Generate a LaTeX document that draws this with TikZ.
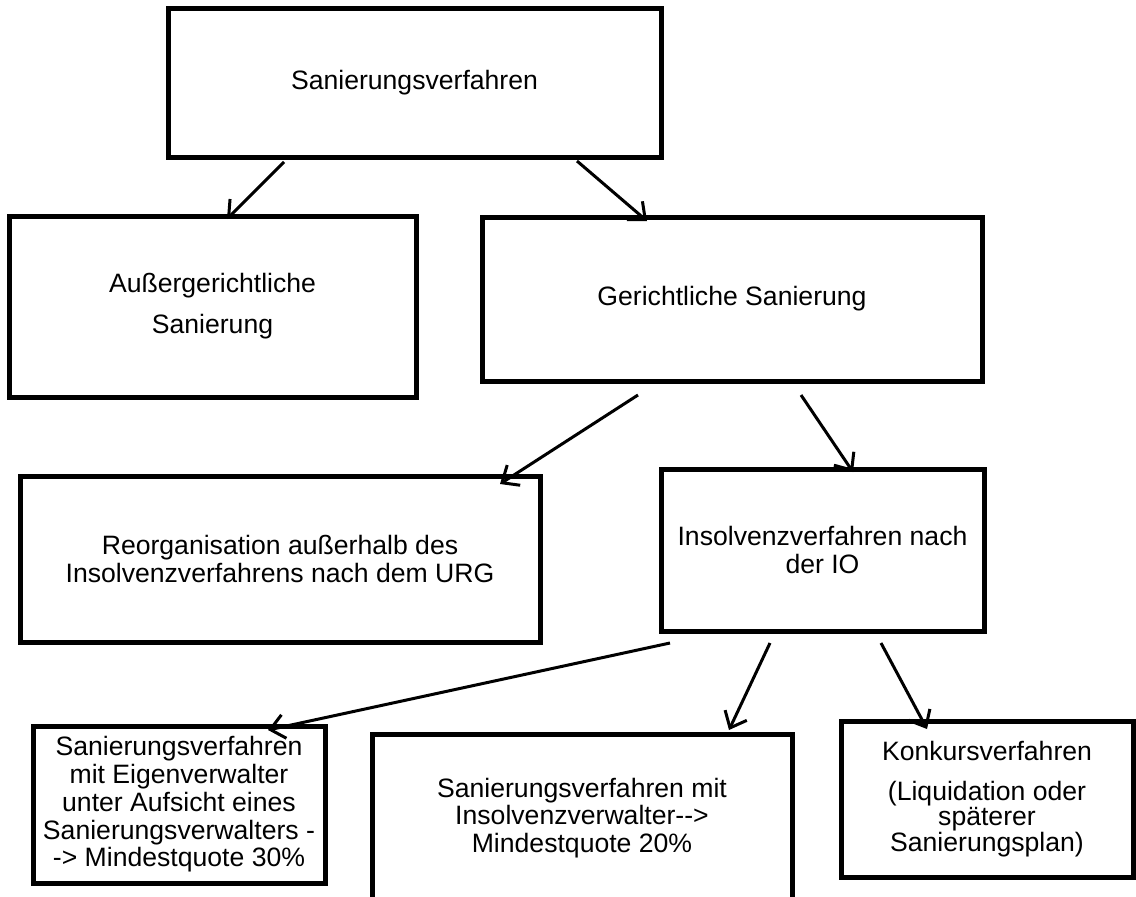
\documentclass[tikz,border=0pt]{standalone}
\usepackage{fontspec}
\setmainfont{Liberation Sans}
\usetikzlibrary{arrows.meta}

\begin{document}
\begin{tikzpicture}[x=1pt, y=-1pt,
	box/.style={draw, line width=5pt, inner sep=0pt, outer sep=0pt, align=center, font=\fontsize{26.6}{27.7}\selectfont},
	pfeil/.style={line width=3pt, -{Straight Barb[length=14pt, width=24pt]}}]
	\useasboundingbox (0,0) rectangle (1136,897);
	\node[box, minimum width=493pt, minimum height=149pt] (san) at (414.5, 82.5) {Sanierungsverfahren};
	\node[box, minimum width=407pt, minimum height=181pt] (aus) at (212.5, 306.5) {Außergerichtliche\\[13.5pt]Sanierung};
	\node[box, minimum width=500pt, minimum height=164pt] (ger) at (732, 299) {Gerichtliche Sanierung};
	\node[box, minimum width=520pt, minimum height=166pt] (reorg) at (280, 559) {Reorganisation außerhalb des\\Insolvenzverfahrens nach dem URG};
	\node[box, minimum width=323pt, minimum height=162pt] (ins) at (822.5, 550) {Insolvenzverfahren nach\\der IO};
	\node[box, minimum width=292pt, minimum height=157pt] (eigen) at (179, 804.5) {Sanierungsverfahren\\mit Eigenverwalter\\unter Aufsicht eines\\Sanierungsverwalters -\\-> Mindestquote 30\%};
	\node[box, minimum width=420pt, minimum height=168pt] (insverw) at (582, 818) {Sanierungsverfahren mit\\Insolvenzverwalter-\kern0pt->\\Mindestquote 20\%};
	\node[box, minimum width=292pt, minimum height=156pt, font=\fontsize{26.6}{24.5}\selectfont] (konk) at (987, 799) {Konkursverfahren\\[16pt] (Liquidation oder\\späterer\\Sanierungsplan)};
	% Pfeile
	\draw[pfeil] ([xshift=-130.5pt, yshift=-5pt]san.south) -- ([xshift=14.5pt, yshift=-3pt]aus.north);
	\draw[pfeil] ([xshift=162.5pt, yshift=-4pt]san.south) -- ([xshift=-85pt, yshift=-4pt]ger.north);
	\draw[pfeil] ([xshift=-94pt, yshift=-14pt]ger.south) -- ([xshift=220pt, yshift=-8pt]reorg.north);
	\draw[pfeil] ([xshift=69pt, yshift=-14pt]ger.south) -- ([xshift=30.5pt, yshift=-3pt]ins.north);
	\draw[pfeil] ([xshift=-152.5pt, yshift=-12pt]ins.south) -- ([xshift=89pt, yshift=-4pt]eigen.north);
	\draw[pfeil] ([xshift=-52.5pt, yshift=-12pt]ins.south) -- ([xshift=147pt, yshift=4pt]insverw.north);
	\draw[pfeil] ([xshift=58.5pt, yshift=-12pt]ins.south) -- ([xshift=-60pt, yshift=-8pt]konk.north);
\end{tikzpicture}
\end{document}
